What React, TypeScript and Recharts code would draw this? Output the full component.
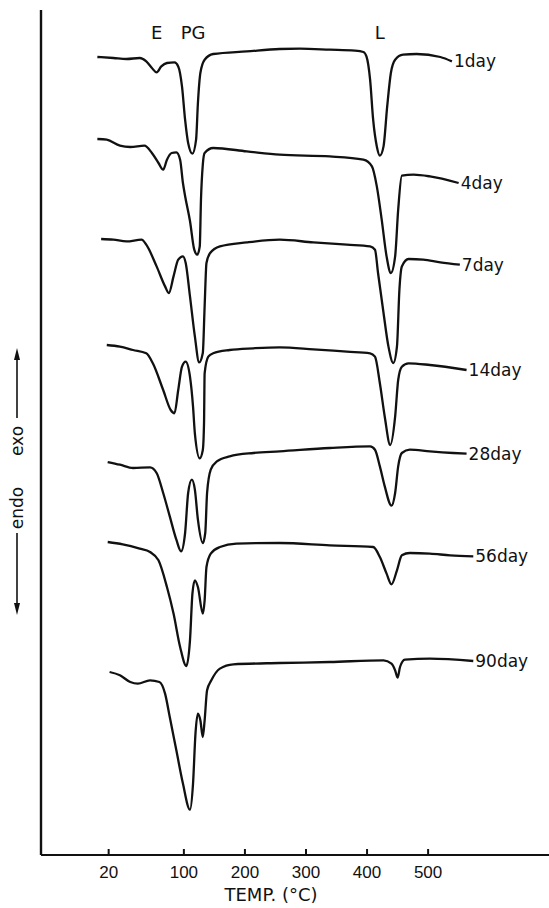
import { LineChart, Line, XAxis, YAxis, ReferenceDot, ReferenceLine, Customized } from 'recharts';

const FONT = '"DejaVu Sans", sans-serif';
const INK = '#111';

// recorder chart: 20–100 °C is drawn wider than the rest of the temperature axis
const LOW_STRETCH = 1.54;
const toAxis = (t: number) => (t >= 100 ? t : 100 - (100 - t) * LOW_STRETCH);
const fromAxis = (v: number) => (v >= 100 ? v : 100 - (100 - v) / LOW_STRETCH);

const TICK_TEMPS = [20, 100, 200, 300, 400, 500];

const DAYS = ['1day', '4day', '7day', '14day', '28day', '56day', '90day'];
// vertical offset of each thermogram (arbitrary ΔT units)
const BASELINES = [798, 716, 616, 510, 393, 313, 183];

const T_1 = [8, 25, 39, 53, 60, 66, 71, 76, 82, 90, 94, 98, 102, 107, 114, 120, 123, 127, 134, 148, 203, 257, 290, 339, 380, 394, 399, 405, 410, 416, 421, 427, 433, 439, 446, 459, 481, 520, 539];
const DT_1 = [0, -1, -2, -1, -4.4, -11, -15.4, -9.4, -6, -5.4, -9.4, -29.4, -62.7, -86, -96.7, -82.7, -46, -16, -2.7, 3, 5.6, 8, 8.3, 7.3, 6.3, 5, 0.6, -22.7, -62.7, -89.4, -98.7, -89.4, -49.4, -16, -2.7, 2.3, 3, 0, -4.4];

const T_4 = [8, 18, 32, 43, 58, 66, 73, 78, 82, 87, 92, 96, 99, 102, 110, 117, 122, 126, 128, 131, 134, 148, 203, 257, 339, 394, 408, 416, 424, 432, 439, 446, 451, 457, 476, 503, 550];
const DT_4 = [0, -0.7, -6.7, -8, -6.7, -14, -24, -30.7, -20.7, -14, -13.4, -20.7, -44, -57, -82, -110.7, -115.7, -107.4, -60.7, -25.7, -14, -9, -12.4, -15.7, -17.4, -20.7, -27.4, -47.4, -80.7, -117.4, -134, -117.4, -70.7, -36.7, -35.7, -37.4, -44];

const T_7 = [12, 25, 39, 55, 60, 71, 80, 84, 89, 94, 99, 103, 110, 118, 125, 131, 134, 137, 143, 159, 203, 257, 312, 367, 405, 413, 418, 427, 435, 443, 449, 453, 457, 468, 492, 520, 552];
const DT_7 = [0, -0.7, -2.4, -0.7, -5.7, -27.4, -47.4, -54, -37.4, -20.7, -17.4, -24, -57.4, -97.4, -123.4, -114, -67.4, -24, -14, -7.4, -3.4, -0.7, -3.4, -5.7, -7.4, -10.7, -34, -74, -107.4, -124, -107.4, -50.7, -27.4, -20, -20.7, -23.4, -25.7];

const T_14 = [18, 32, 46, 60, 67, 78, 86, 90, 94, 98, 103, 110, 115, 118, 126, 131, 133, 134, 140, 148, 175, 214, 257, 312, 367, 405, 413, 421, 429, 438, 446, 451, 457, 468, 503, 563];
const DT_14 = [0, -1.7, -5, -8.3, -18.3, -45, -65, -68.3, -45, -21.7, -16.7, -31.7, -61.7, -88.3, -113.3, -105, -78.3, -28.3, -11.7, -8.3, -5, -3.3, -2.3, -4.3, -6.7, -8.3, -11.7, -38.3, -71.7, -100, -71.7, -35, -21.7, -18.3, -20, -25];

const T_28 = [19, 32, 46, 64, 71, 78, 85, 92, 97, 102, 107, 113, 118, 123, 131, 135, 138, 144, 154, 175, 214, 257, 339, 405, 413, 421, 429, 440, 446, 451, 457, 470, 503, 541, 563];
const DT_28 = [0, -2.7, -6, -5.4, -11, -31, -54.4, -77.7, -89.4, -71, -31, -17.7, -27.7, -57.7, -81, -71, -31, -7.7, 0.6, 5.6, 9, 10.6, 14, 15.6, 12.3, -4.4, -24.4, -43.7, -31, -4.4, 9, 12.3, 10.6, 9, 8.3];

const T_56 = [19, 35, 53, 64, 73, 82, 89, 96, 104, 110, 114, 118, 123, 131, 134, 137, 144, 159, 186, 257, 339, 410, 421, 432, 440, 449, 457, 470, 503, 536, 574];
const DT_56 = [0, -2.3, -6.6, -10, -18.3, -45, -71.6, -105, -124, -98.3, -51.6, -38.3, -45, -71.6, -58.3, -25, -11.6, -5, -1.6, -1, -3.3, -5, -15, -31.6, -42.3, -28.3, -13.3, -11, -11.6, -13.3, -14.3];

const T_90 = [21, 32, 43, 51, 64, 74, 80, 85, 92, 99, 110, 115, 119, 123, 127, 131, 134, 138, 145, 159, 181, 257, 339, 427, 440, 446, 450, 454, 462, 503, 574];
const DT_90 = [0, -3.3, -10, -11.6, -8.3, -10, -21.6, -45, -78.3, -111.6, -137.6, -111.6, -61.6, -41.6, -48.3, -65, -48.3, -18.3, -8.3, 3.4, 7.7, 9, 10, 11.7, 8.4, 1.7, -5.6, 5, 12.4, 13.4, 11];

const TEMPS = [T_1, T_4, T_7, T_14, T_28, T_56, T_90];
const SIGNALS = [DT_1, DT_4, DT_7, DT_14, DT_28, DT_56, DT_90];

// peak assignments written above the top curve
const PEAK_NAMES = ['E', 'PG', 'L'];
const PEAK_TEMPS = [71, 115, 421];

const curves = DAYS.map((name, i) => ({
  name,
  points: TEMPS[i].map((t, j) => ({ x: toAxis(t), y: BASELINES[i] + SIGNALS[i][j] })),
}));

function TempTick({ x, y, payload }: any) {
  return (
    <text x={x} y={y + 23} textAnchor="middle" fontFamily='"Liberation Sans", sans-serif' fontSize={17} fill={INK}>
      {Math.round(fromAxis(payload.value))}
    </text>
  );
}

function HeatFlowArrows() {
  const x = 17;
  return (
    <g stroke={INK} fill={INK}>
      <line x1={x} y1={356} x2={x} y2={418} strokeWidth={1.6} />
      <polygon points={`${x - 3},${360} ${x + 3},${360} ${x},${348}`} stroke="none" />
      <text transform={`translate(${x + 6},441) rotate(-90)`} textAnchor="middle" fontFamily={FONT} fontSize={17} stroke="none">exo</text>
      <text transform={`translate(${x + 6},508) rotate(-90)`} textAnchor="middle" fontFamily={FONT} fontSize={17} stroke="none">endo</text>
      <line x1={x} y1={533} x2={x} y2={606} strokeWidth={1.6} />
      <polygon points={`${x - 3},${603} ${x + 3},${603} ${x},${615}`} stroke="none" />
    </g>
  );
}

export default function App() {
  return (
    <div style={{ position: 'absolute', left: 0, top: 0, background: '#fff' }}>
      <LineChart width={549} height={908} margin={{ top: 10, right: 0, bottom: 0, left: 40 }}>
        <XAxis
          type="number"
          dataKey="x"
          domain={[-134, 698]}
          ticks={TICK_TEMPS.map(toAxis)}
          interval={0}
          tick={<TempTick />}
          tickLine={false}
          tickSize={0}
          tickMargin={0}
          height={53}
          axisLine={{ stroke: INK, strokeWidth: 2 }}
          label={{
            content: ({ viewBox }: any) => (
              <text x={viewBox.x + 230} y={viewBox.y + 46} textAnchor="middle" fontFamily={FONT} fontSize={18} fill={INK}>
                TEMP. (°C)
              </text>
            ),
          }}
        />
        <YAxis
          type="number"
          domain={[0, 845]}
          width={1}
          tick={false}
          tickLine={false}
          axisLine={{ stroke: INK, strokeWidth: 2.4 }}
        />
        {/* short tick marks standing up from the temperature axis */}
        {TICK_TEMPS.map((t) => (
          <ReferenceLine
            key={'tick' + t}
            segment={[{ x: toAxis(t), y: 0 }, { x: toAxis(t), y: 6 }]}
            stroke={INK}
            strokeWidth={2}
            ifOverflow="visible"
          />
        ))}
        {curves.map((c) => (
          <Line
            key={c.name}
            data={c.points}
            dataKey="y"
            type="monotone"
            stroke={INK}
            strokeWidth={2.3}
            dot={false}
            activeDot={false}
            isAnimationActive={false}
          />
        ))}
        {curves.map((c) => {
          const last = c.points[c.points.length - 1];
          return (
            <ReferenceDot
              key={'lbl' + c.name}
              x={last.x}
              y={last.y}
              r={0}
              stroke="none"
              fill="none"
              label={{ value: c.name, position: 'right', offset: 2, fontSize: 17, fontFamily: FONT, fill: INK }}
            />
          );
        })}
        {PEAK_NAMES.map((p, i) => (
          <ReferenceDot
            key={p}
            x={toAxis(PEAK_TEMPS[i])}
            y={822}
            r={0}
            stroke="none"
            fill="none"
            label={{ value: p, position: 'center', fontSize: 18, fontFamily: FONT, fill: INK }}
          />
        ))}
        <Customized component={HeatFlowArrows} />
      </LineChart>
    </div>
  );
}
